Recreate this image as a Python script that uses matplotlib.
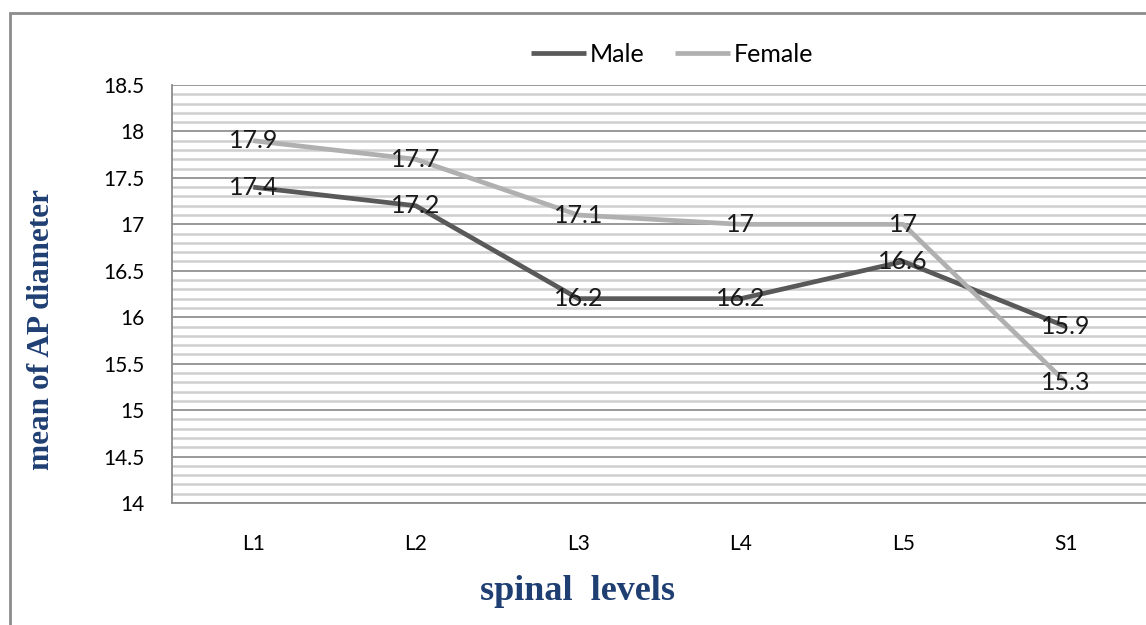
import matplotlib
matplotlib.use("Agg")
import matplotlib.pyplot as plt
from matplotlib.patches import Rectangle
from matplotlib.ticker import MultipleLocator

levels = ["L1", "L2", "L3", "L4", "L5", "S1"]
male = [17.4, 17.2, 16.2, 16.2, 16.6, 15.9]
female = [17.9, 17.7, 17.1, 17.0, 17.0, 15.3]
male_labels = ["17.4", "17.2", "16.2", "16.2", "16.6", "15.9"]
female_labels = ["17.9", "17.7", "17.1", "17", "17", "15.3"]

W, H = 1146, 625
fig = plt.figure(figsize=(W / 100, H / 100), dpi=100)
fig.patch.set_facecolor("white")

# outer chart border
fig.patches.append(Rectangle((10 / W, 0 - 0.01), 1.2, (H - 13) / H + 0.01,
                             transform=fig.transFigure, fill=False,
                             edgecolor="#8c8c8c", linewidth=2))

left, right, top, bottom = 172, 1147, 85, 503
ax = fig.add_axes([left / W, 1 - bottom / H, (right - left) / W, (bottom - top) / H])

x = [i + 0.5 for i in range(len(levels))]
ax.set_xlim(0, len(levels))
ax.set_ylim(14, 18.5)

ax.yaxis.set_major_locator(MultipleLocator(0.5))
ax.yaxis.set_minor_locator(MultipleLocator(0.1))
ax.grid(which="minor", axis="y", color="#cfcfcf", linewidth=1.8)
ax.grid(which="major", axis="y", color="#999999", linewidth=1.4)
ax.set_axisbelow(True)

ax.plot(x, male, color="#595959", linewidth=3.4, label="Male", solid_capstyle="butt")
ax.plot(x, female, color="#b0b0b0", linewidth=3.4, label="Female", solid_capstyle="butt")

for xi, v, t in zip(x, male, male_labels):
    ax.text(xi, v, t, ha="center", va="center", fontsize=18, family="Lato", color="#1a1a1a")
for xi, v, t in zip(x, female, female_labels):
    ax.text(xi, v, t, ha="center", va="center", fontsize=18, family="Lato", color="#1a1a1a")

ax.set_xticks(x)
ax.set_xticklabels(levels, family="Lato", fontsize=15)
ax.tick_params(axis="x", length=0, pad=22)
ax.tick_params(axis="y", which="both", length=0, pad=20, labelsize=15)
for lab in ax.get_yticklabels():
    lab.set_family("Lato")
ax.yaxis.set_major_formatter(matplotlib.ticker.FuncFormatter(lambda v, p: f"{v:g}"))

for s in ["top", "right"]:
    ax.spines[s].set_visible(False)
ax.spines["left"].set_color("#8c8c8c")
ax.spines["bottom"].set_color("#8c8c8c")
ax.spines["left"].set_linewidth(1.3)
ax.spines["bottom"].set_linewidth(1.3)

fig.text(578 / W, 1 - 592 / H, "spinal  levels", ha="center", va="center",
         family="Liberation Serif", fontweight="bold", fontsize=26, color="#1f3f73")
fig.text(42 / W, 1 - 330 / H, "mean of AP diameter", ha="center", va="center",
         rotation=90, family="Liberation Serif", fontweight="bold", fontsize=22.5, color="#1f3f73")

leg = ax.legend(loc="center", bbox_to_anchor=((672 - left) / (right - left), 1 + (85 - 54) / (bottom - top)),
                ncol=2, frameon=False, prop={"family": "Lato", "size": 18},
                handlelength=2.2, handletextpad=0.15, columnspacing=1.2)

fig.savefig("out.png", dpi=100)
